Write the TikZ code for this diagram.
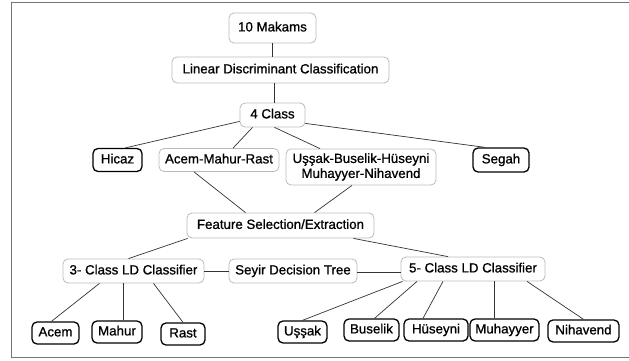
\documentclass[tikz,border=0pt]{standalone}
\usepackage{fontspec}
\setmainfont{Liberation Sans}
\newfontfamily\boxfont{Liberation Sans}[FakeBold=0.9]
\usetikzlibrary{positioning}
\tikzset{
  graybox/.style={draw=black!27, rounded corners=5pt, line width=0.8pt, minimum height=24pt,
    inner xsep=6pt, inner ysep=0pt, text height=9.6pt, text depth=2.8pt},
  leafbox/.style={draw=black, rounded corners=5pt, line width=1.3pt, minimum height=22pt,
    inner xsep=5pt, inner ysep=0pt, text height=9.6pt, text depth=2.8pt},
  link/.style={draw=black!80, line width=0.7pt}
}

\begin{document}
\begin{tikzpicture}[x=1pt, y=-1pt, font=\boxfont\fontsize{13.3}{15}\selectfont]
\def\ymid {160}   % y of the 4 class groups
\def\yclf {271}   % y of the classifiers
\def\yleaf {332}  % y of the makams at the bottom
\useasboundingbox (0,0) rectangle (629,361);
% frame:
\draw[draw=black!55, line width=1pt] (11,3) rectangle (640,357);
% top:
\node[graybox, minimum width=87pt, minimum height=30pt] (makams) at (272.5,28) {10 Makams};
\node[graybox, minimum width=217pt, minimum height=26pt] (ldc) at (280.5,70) {Linear Discriminant Classification};
\node[graybox, minimum width=65pt] (fourclass) at (272.5,115) {4 Class};
% 4 classes:
\node[leafbox, minimum width=49pt, minimum height=23pt] (hicaz) at (117.5,\ymid) {Hicaz};
\node[graybox, minimum width=116pt, minimum height=23pt] (amr) at (219,\ymid) {Acem-Mahur-Rast};
\node[draw=black!27, rounded corners=5pt, line width=0.8pt, minimum width=150pt, minimum height=36pt,
  inner sep=0pt, align=center] (uss) at (361,167) {Uşşak-Buselik-Hüseyni\\Muhayyer-Nihavend};
\node[leafbox, minimum width=56pt, minimum height=24pt] (segah) at (501,\ymid) {Segah};
% features and classifiers:
\node[graybox, minimum width=187pt, minimum height=25pt] (feature) at (280.5,225.5) {Feature Selection/Extraction};
\node[graybox, minimum width=141pt] (cthree) at (133.5,\yclf) {3- Class LD Classifier};
\node[graybox, minimum width=128pt] (seyir) at (293,\yclf) {Seyir Decision Tree};
\node[graybox, minimum width=144pt] (cfive) at (473,269) {5- Class LD Classifier};
% makams:
\node[leafbox, minimum width=47pt] (acem) at (55.5,333) {Acem};
\node[leafbox, minimum width=50pt] (mahur) at (117,\yleaf) {Mahur};
\node[leafbox, minimum width=44pt] (rast) at (183,334) {Rast};
\node[leafbox, minimum width=49pt] (ussak) at (302.5,\yleaf) {Uşşak};
\node[leafbox, minimum width=55pt] (buselik) at (371.5,330) {Buselik};
\node[leafbox, minimum width=64pt] (huseyni) at (436,330) {Hüseyni};
\node[leafbox, minimum width=69pt] (muhayyer) at (504.5,330) {Muhayyer};
\node[leafbox, minimum width=71pt] (nihavend) at (583.5,331) {Nihavend};
%% lines:
\draw[link] (makams.south) -- (makams.south |- ldc.north);
\draw[link] ([xshift=1.5pt]fourclass.north) -- ([xshift=1.5pt]fourclass.north |- ldc.south);
\draw[link] ([yshift=6pt]fourclass.south west) -- ([xshift=8pt]hicaz.north);
\draw[link] ([xshift=-20pt]fourclass.south) -- ([xshift=14pt]amr.north);
\draw[link] ([xshift=2pt]fourclass.south) -- ([xshift=-41pt]uss.north);
\draw[link] ([yshift=4pt]fourclass.south east) -- ([xshift=-16pt]segah.north);
\draw[link] ([xshift=-25pt]amr.south) -- ([xshift=-35pt]feature.north);
\draw[link] ([xshift=-9pt]uss.south) -- ([xshift=34pt]feature.north);
\draw[link] ([xshift=1pt]feature.south west) -- ([xshift=-5pt]cthree.north);
\draw[link] ([xshift=-21pt]feature.south east) -- ([xshift=-25pt]cfive.north);
\draw[link] (cthree.east) -- (seyir.west);
\draw[link] ([yshift=-1pt]seyir.east) -- ([yshift=-1pt]seyir.east -| cfive.west);
%% to the makams:
\draw[link] ([xshift=-34pt]cthree.south) -- ([xshift=-4pt]acem.north);
\draw[link] ([xshift=6pt]mahur.north) -- ([xshift=6pt]mahur.north |- cthree.south);
\draw[link] ([xshift=20pt]cthree.south) -- (rast.north);
\draw[link] ([xshift=2pt]cfive.south west) -- (ussak.north);
\draw[link] ([xshift=-56pt]cfive.south) -- ([xshift=3pt]buselik.north);
\draw[link] ([xshift=-30pt]cfive.south) -- ([xshift=-13pt]huseyni.north);
\draw[link] ([xshift=-10pt]muhayyer.north) -- ([xshift=-10pt]muhayyer.north |- cfive.south);
\draw[link] ([xshift=54pt]cfive.south) -- (nihavend.north);
\end{tikzpicture}
\end{document}
